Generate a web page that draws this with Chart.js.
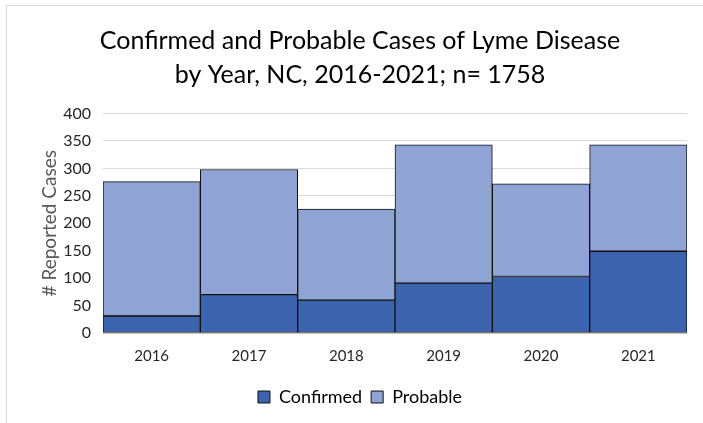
<!DOCTYPE html>
<html>
<head>
<meta charset="utf-8">
<script src="https://cdn.jsdelivr.net/npm/chart.js@4"></script>
<style>
  html, body { margin: 0; padding: 0; background: #fff; }
  #wrap { width: 703px; height: 423px; position: relative; }
</style>
</head>
<body>
<div id="wrap"><canvas id="lymeChart" width="703" height="423"></canvas></div>
<script>
// Lyme disease cases by year
const years = ["2016", "2017", "2018", "2019", "2020", "2021"];
const confirmed = [31, 70, 60, 91, 103, 149];
const probable = [245, 228, 166, 252, 169, 194];
const yTicks = [0, 50, 100, 150, 200, 250, 300, 350, 400];

const FONT = "Lato";

// light frame around the chart, like the exported picture
const framePlugin = {
  id: "frame",
  beforeDraw(chart) {
    const ctx = chart.ctx;
    ctx.save();
    ctx.fillStyle = "#fff";
    ctx.fillRect(0, 0, chart.width, chart.height);
    ctx.strokeStyle = "#d9d9d9";
    ctx.lineWidth = 1;
    ctx.strokeRect(6.5, 5.5, chart.width, chart.height);
    ctx.restore();
  },
};

const ctx = document.getElementById("lymeChart").getContext("2d");
new Chart(ctx, {
  type: "bar",
  data: {
    labels: years,
    datasets: [
      {
        label: "Confirmed",
        data: confirmed,
        backgroundColor: "#3c64ae",
        borderColor: "#111",
        borderWidth: 1,
        borderSkipped: false,
        barPercentage: 1,
        categoryPercentage: 1,
      },
      {
        label: "Probable",
        data: probable,
        backgroundColor: "#8fa4d4",
        borderColor: "#111",
        borderWidth: 1,
        borderSkipped: false,
        barPercentage: 1,
        categoryPercentage: 1,
      },
    ],
  },
  options: {
    responsive: false,
    animation: false,
    layout: {
      padding: { left: 33, right: 16, top: 0, bottom: 7 },
    },
    plugins: {
      title: {
        display: true,
        text: [
          "Confirmed and Probable Cases of Lyme Disease",
          "by Year, NC, 2016-2021; n= 1758",
        ],
        color: "#000",
        font: { family: FONT, size: 25, weight: "normal", lineHeight: 1.35 },
        padding: { top: 24, bottom: 22 },
      },
      legend: {
        position: "bottom",
        labels: {
          color: "#000",
          font: { family: FONT, size: 18 },
          boxWidth: 12,
          boxHeight: 12,
          padding: 9,
        },
      },
      tooltip: { enabled: false },
    },
    scales: {
      x: {
        stacked: true,
        grid: { display: true, drawOnChartArea: false, drawTicks: false },
        border: { display: true, color: "#bfbfbf" },
        ticks: {
          color: "#262626",
          font: { family: FONT, size: 15 },
          padding: 14,
        },
      },
      y: {
        stacked: true,
        min: 0,
        max: 400,
        afterBuildTicks(scale) {
          scale.ticks = yTicks.map((v) => ({ value: v }));
        },
        afterFit(scale) {
          scale.width = 70;
        },
        grid: { color: "#d9d9d9", drawTicks: false },
        border: { display: false },
        ticks: {
          color: "#262626",
          font: { family: FONT, size: 16 },
          padding: 12,
        },
        title: {
          display: true,
          text: "# Reported Cases",
          color: "#595959",
          font: { family: FONT, size: 19 },
          padding: { top: 5, bottom: 0 },
        },
      },
    },
  },
  plugins: [framePlugin],
});
</script>
</body>
</html>
